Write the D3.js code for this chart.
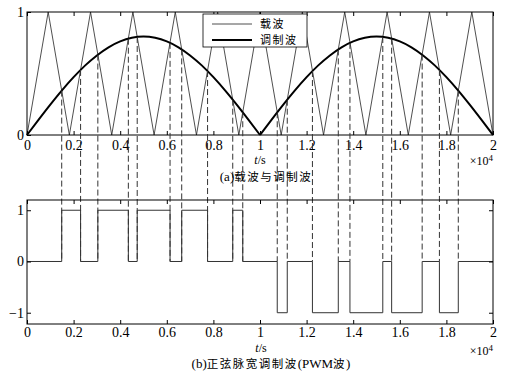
<!DOCTYPE html>
<html>
<head>
<meta charset="utf-8">
<script src="https://cdn.jsdelivr.net/npm/d3@7"></script>
<style>
body { margin: 0; background: #fff; }
text { fill: #000; }
</style>
</head>
<body>
<script>
let width = 508;
let height = 378;

// carrier (triangle) vertices, t in units of 1e4 s
let carrierT = [0, 0.0909, 0.1818, 0.2727, 0.3636, 0.4545, 0.5455, 0.6364, 0.7273, 0.8182, 0.9091, 1.0,
                1.0909, 1.1818, 1.2727, 1.3636, 1.4545, 1.5455, 1.6364, 1.7273, 1.8182, 1.9091, 2.0];
let carrierV = [0, 1, 0, 1, 0, 1, 0, 1, 0, 1, 0, 1, 0, 1, 0, 1, 0, 1, 0, 1, 0, 1, 0];

// modulating wave
let modT = [0, 0.05, 0.1, 0.15, 0.2, 0.25, 0.3, 0.35, 0.4, 0.45, 0.5, 0.55, 0.6, 0.65, 0.7, 0.75, 0.8, 0.85, 0.9, 0.95, 1.0,
            1.05, 1.1, 1.15, 1.2, 1.25, 1.3, 1.35, 1.4, 1.45, 1.5, 1.55, 1.6, 1.65, 1.7, 1.75, 1.8, 1.85, 1.9, 1.95, 2.0];
let modV = [0, 0.125, 0.247, 0.363, 0.470, 0.566, 0.647, 0.713, 0.761, 0.790, 0.800, 0.790, 0.761, 0.713, 0.647, 0.566, 0.470, 0.363, 0.247, 0.125, 0,
            0.125, 0.247, 0.363, 0.470, 0.566, 0.647, 0.713, 0.761, 0.790, 0.800, 0.790, 0.761, 0.713, 0.647, 0.566, 0.470, 0.363, 0.247, 0.125, 0];

// crossing points (PWM edges) and their heights
let edgeT = [0.149, 0.230, 0.304, 0.435, 0.473, 0.614, 0.664, 0.775, 0.883, 0.926,
             1.074, 1.117, 1.225, 1.336, 1.386, 1.527, 1.565, 1.696, 1.770, 1.851];
let edgeV = [0.361, 0.529, 0.654, 0.783, 0.797, 0.749, 0.696, 0.520, 0.287, 0.185,
             0.185, 0.287, 0.520, 0.696, 0.749, 0.797, 0.783, 0.654, 0.529, 0.361];
// PWM level after each edge (first value is level from t=0)
let pwmLevel = [0, 1, 0, 1, 0, 1, 0, 1, 0, 1, 0, -1, 0, -1, 0, -1, 0, -1, 0, -1, 0];

let xTicks = [0, 0.2, 0.4, 0.6, 0.8, 1, 1.2, 1.4, 1.6, 1.8, 2];
let yTopTicks = [0, 1];
let yBotTicks = [-1, 0, 1];

let serif = "'Liberation Serif', 'DejaVu Serif', serif";
let cjk = "'Noto Sans CJK SC', sans-serif";
let fmt = d3.format("~g");

let svg = d3.select("body").append("svg").attr("width", width).attr("height", height);

let x = d3.scaleLinear().domain([0, 2]).range([27, 493]);
let yTop = d3.scaleLinear().domain([0, 1]).range([135, 12]);
let yBot = d3.scaleLinear().domain([-1.22, 1.2]).range([324, 200]);

function styleAxis(g){
    g.select(".domain").remove();
    g.selectAll(".tick line").attr("stroke", "#000");
    g.selectAll(".tick text").attr("font-family", serif).attr("font-size", 14).attr("fill", "#000");
}

// ---------- top chart ----------
let topG = svg.append("g");

topG.append("path")
    .datum(carrierT.map(function(t, i){ return {t: t, v: carrierV[i]}; }))
    .attr("fill", "none")
    .attr("stroke", "#222")
    .attr("stroke-width", 0.8)
    .attr("d", d3.line().x(function(d){ return x(d.t); }).y(function(d){ return yTop(d.v); }));

let modPts = modT.map(function(t, i){ return {t: t, v: modV[i]}; });
let modLine = d3.line().curve(d3.curveMonotoneX)
    .x(function(d){ return x(d.t); }).y(function(d){ return yTop(d.v); });
[modPts.slice(0, 21), modPts.slice(20)].forEach(function(half){
    topG.append("path")
        .datum(half)
        .attr("fill", "none")
        .attr("stroke", "#000")
        .attr("stroke-width", 2)
        .attr("d", modLine);
});

// dashed projection lines
svg.append("g").selectAll("line")
    .data(edgeT)
    .enter()
    .append("line")
        .attr("x1", function(d){ return x(d); })
        .attr("x2", function(d){ return x(d); })
        .attr("y1", function(d, i){ return yTop(edgeV[i]); })
        .attr("y2", yBot(0))
        .attr("stroke", "#333")
        .attr("stroke-width", 1)
        .attr("stroke-dasharray", "6,3");

topG.append("g")
    .attr("transform", "translate(0," + yTop(0) + ")")
    .call(d3.axisBottom(x).tickValues(xTicks).tickFormat(fmt).tickSizeInner(-4).tickSizeOuter(0).tickPadding(5))
    .call(styleAxis);
topG.append("g")
    .attr("transform", "translate(0," + yTop(1) + ")")
    .call(d3.axisTop(x).tickValues(xTicks).tickSizeInner(-4).tickSizeOuter(0).tickFormat(""))
    .call(styleAxis);
topG.append("g")
    .attr("transform", "translate(" + x(0) + ",0)")
    .call(d3.axisLeft(yTop).tickValues(yTopTicks).tickFormat(fmt).tickSizeInner(-4).tickSizeOuter(0).tickPadding(3))
    .call(styleAxis);

topG.append("rect")
    .attr("x", x(0)).attr("y", yTop(1))
    .attr("width", x(2) - x(0)).attr("height", yTop(0) - yTop(1))
    .attr("fill", "none").attr("stroke", "#000").attr("stroke-width", 1);

// legend
let legend = topG.append("g");
legend.append("rect")
    .attr("x", 203).attr("y", 14).attr("width", 104).attr("height", 33)
    .attr("fill", "#fff").attr("stroke", "#000").attr("stroke-width", 0.8);
legend.append("line").attr("x1", 212).attr("x2", 252).attr("y1", 24).attr("y2", 24)
    .attr("stroke", "#222").attr("stroke-width", 0.8);
legend.append("line").attr("x1", 212).attr("x2", 252).attr("y1", 40).attr("y2", 40)
    .attr("stroke", "#000").attr("stroke-width", 2);
legend.append("text").attr("x", 260).attr("y", 28).text("载波")
    .attr("font-family", cjk).attr("font-size", 11).attr("letter-spacing", 1.5);
legend.append("text").attr("x", 260).attr("y", 44).text("调制波")
    .attr("font-family", cjk).attr("font-size", 11).attr("letter-spacing", 1.5);

// ---------- bottom chart ----------
let botG = svg.append("g");

let pwmPts = [{t: 0, v: pwmLevel[0]}];
edgeT.forEach(function(t, i){ pwmPts.push({t: t, v: pwmLevel[i + 1]}); });
pwmPts.push({t: 2, v: pwmLevel[pwmLevel.length - 1]});

botG.append("path")
    .datum(pwmPts)
    .attr("fill", "none")
    .attr("stroke", "#333")
    .attr("stroke-width", 1)
    .attr("d", d3.line().curve(d3.curveStepAfter)
        .x(function(d){ return x(d.t); }).y(function(d){ return yBot(d.v); }));

botG.append("g")
    .attr("transform", "translate(0," + yBot.range()[0] + ")")
    .call(d3.axisBottom(x).tickValues(xTicks).tickFormat(fmt).tickSizeInner(-4).tickSizeOuter(0).tickPadding(3))
    .call(styleAxis);
botG.append("g")
    .attr("transform", "translate(0," + yBot.range()[1] + ")")
    .call(d3.axisTop(x).tickValues(xTicks).tickSizeInner(-4).tickSizeOuter(0).tickFormat(""))
    .call(styleAxis);
botG.append("g")
    .attr("transform", "translate(" + x(0) + ",0)")
    .call(d3.axisLeft(yBot).tickValues(yBotTicks).tickFormat(fmt).tickSizeInner(-4).tickSizeOuter(0).tickPadding(3))
    .call(styleAxis);
botG.append("g")
    .attr("transform", "translate(" + x(2) + ",0)")
    .call(d3.axisRight(yBot).tickValues(yBotTicks).tickSizeInner(-4).tickSizeOuter(0).tickFormat(""))
    .call(styleAxis);

botG.append("rect")
    .attr("x", x(0)).attr("y", yBot.range()[1])
    .attr("width", x(2) - x(0)).attr("height", yBot.range()[0] - yBot.range()[1])
    .attr("fill", "none").attr("stroke", "#000").attr("stroke-width", 1);

// ---------- labels ----------
function timeLabel(cx, y){
    let t = svg.append("text").attr("x", cx).attr("y", y)
        .attr("text-anchor", "middle").attr("font-family", serif).attr("font-size", 12);
    t.append("tspan").attr("font-style", "italic").text("t");
    t.append("tspan").text("/s");
}
function expLabel(y){
    let t = svg.append("text").attr("x", 493).attr("y", y)
        .attr("text-anchor", "end").attr("font-family", serif).attr("font-size", 12);
    t.append("tspan").text("×10");
    t.append("tspan").attr("dy", -4).attr("font-size", 9).text("4");
}
function caption(cx, y, parts){
    let t = svg.append("text").attr("x", cx).attr("y", y).attr("text-anchor", "middle");
    parts.forEach(function(p){
        t.append("tspan")
            .attr("font-family", p[1] ? cjk : serif)
            .attr("font-size", p[1] ? 11.5 : 13)
            .attr("letter-spacing", p[1] ? 1.5 : 0)
            .text(p[0]);
    });
}

timeLabel(260, 164);
expLabel(165);
caption(266, 181, [["(a)", false], ["载波与调制波", true]]);

timeLabel(261, 352);
expLabel(355);
caption(271, 368, [["(b)", false], ["正弦脉宽调制波", true], ["(PWM", false], ["波", true], [")", false]]);
</script>
</body>
</html>
